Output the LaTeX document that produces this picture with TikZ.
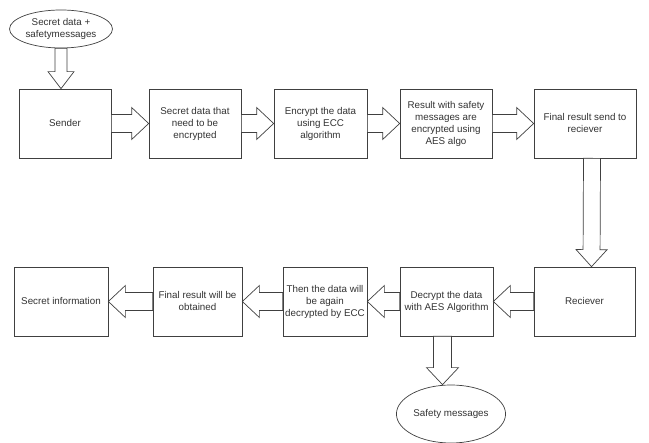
\documentclass[tikz,border=0pt]{standalone}
\usepackage{fontspec}
\setmainfont{Liberation Sans}
\usepackage{tikz}
\usetikzlibrary{calc}
\usetikzlibrary{shapes.geometric}

\tikzset{
  box/.style={draw=black!75, line width=0.7pt, fill=white, inner sep=1pt,
    align=center, text=black!80, font=\fontsize{9.8}{12}\selectfont},
  oval/.style={box, ellipse, minimum width=102pt},
  blk/.style={draw=black!75, line width=0.7pt, fill=white, line join=miter}
}

% block arrow: [shaft half width]{from}{to}
\newcommand{\blockarrow}[3][9]{%
  \path (#2) coordinate (s) (#3) coordinate (t) ($(t)!17pt!(s)$) coordinate (b);
  \draw[blk] ($(s)!#1pt!90:(t)$) -- ($(b)!#1pt!-90:(s)$) -- ($(b)!#1pt+7pt!-90:(s)$)
    -- (t) -- ($(b)!#1pt+7pt!90:(s)$) -- ($(b)!#1pt!90:(s)$) -- ($(s)!#1pt!-90:(t)$) -- cycle;}

\begin{document}
\begin{tikzpicture}[x=1pt,y=-1pt]
\useasboundingbox (0,0) rectangle (649,443);

% top row
\node[oval, minimum height=38pt] (input) at (61,29) {Secret data +\\safetymessages};
\node[box, minimum width=92pt, minimum height=69pt] (sender) at (65,123.5) {Sender};
\node[box, minimum width=92pt, minimum height=69pt] (secret) at (195,123.5) {Secret data that\\need to be\\encrypted};
\node[box, minimum width=93pt, minimum height=69pt] (ecc) at (320.5,123.5) {Encrypt the data\\using ECC\\algorithm};
\node[box, minimum width=92pt, minimum height=69pt] (aes) at (446,123.5) {Result with safety\\messages are\\encrypted using\\AES algo};
\node[box, minimum width=102pt, minimum height=69pt] (send) at (585,123.5) {Final result send to\\reciever};

% bottom row
\node[box, minimum width=101pt, minimum height=69pt] (recv) at (584.5,301.5) {Reciever};
\node[box, minimum width=93pt, minimum height=69pt] (decaes) at (446.5,301.5) {Decrypt the data\\with AES Algorithm};
\node[box, minimum width=84pt, minimum height=69pt] (dececc) at (325,301.5) {Then the data will\\be again\\decrypted by ECC};
\node[box, minimum width=89pt, minimum height=69pt] (final) at (197.5,301.5) {Final result will be\\obtained};
\node[box, minimum width=94pt, minimum height=69pt] (info) at (61,301.5) {Secret information};
\node[oval, minimum height=58pt] (safe) at (451,414) {Safety messages};

% arrows
\blockarrow[6]{input.south}{input.south |- sender.north}
\blockarrow{sender.east}{secret.west}
\blockarrow{secret.east}{ecc.west}
\blockarrow{ecc.east}{aes.west}
\blockarrow{aes.east}{send.west}
\blockarrow[8.5]{[xshift=7pt]send.south}{[xshift=7pt]recv.north}
\blockarrow{recv.west}{decaes.east}
\blockarrow{decaes.west}{dececc.east}
\blockarrow{dececc.west}{final.east}
\blockarrow{final.west}{info.east}
\blockarrow{[xshift=-4pt]decaes.south}{[xshift=-4pt]decaes.south |- safe.north}
\end{tikzpicture}
\end{document}
